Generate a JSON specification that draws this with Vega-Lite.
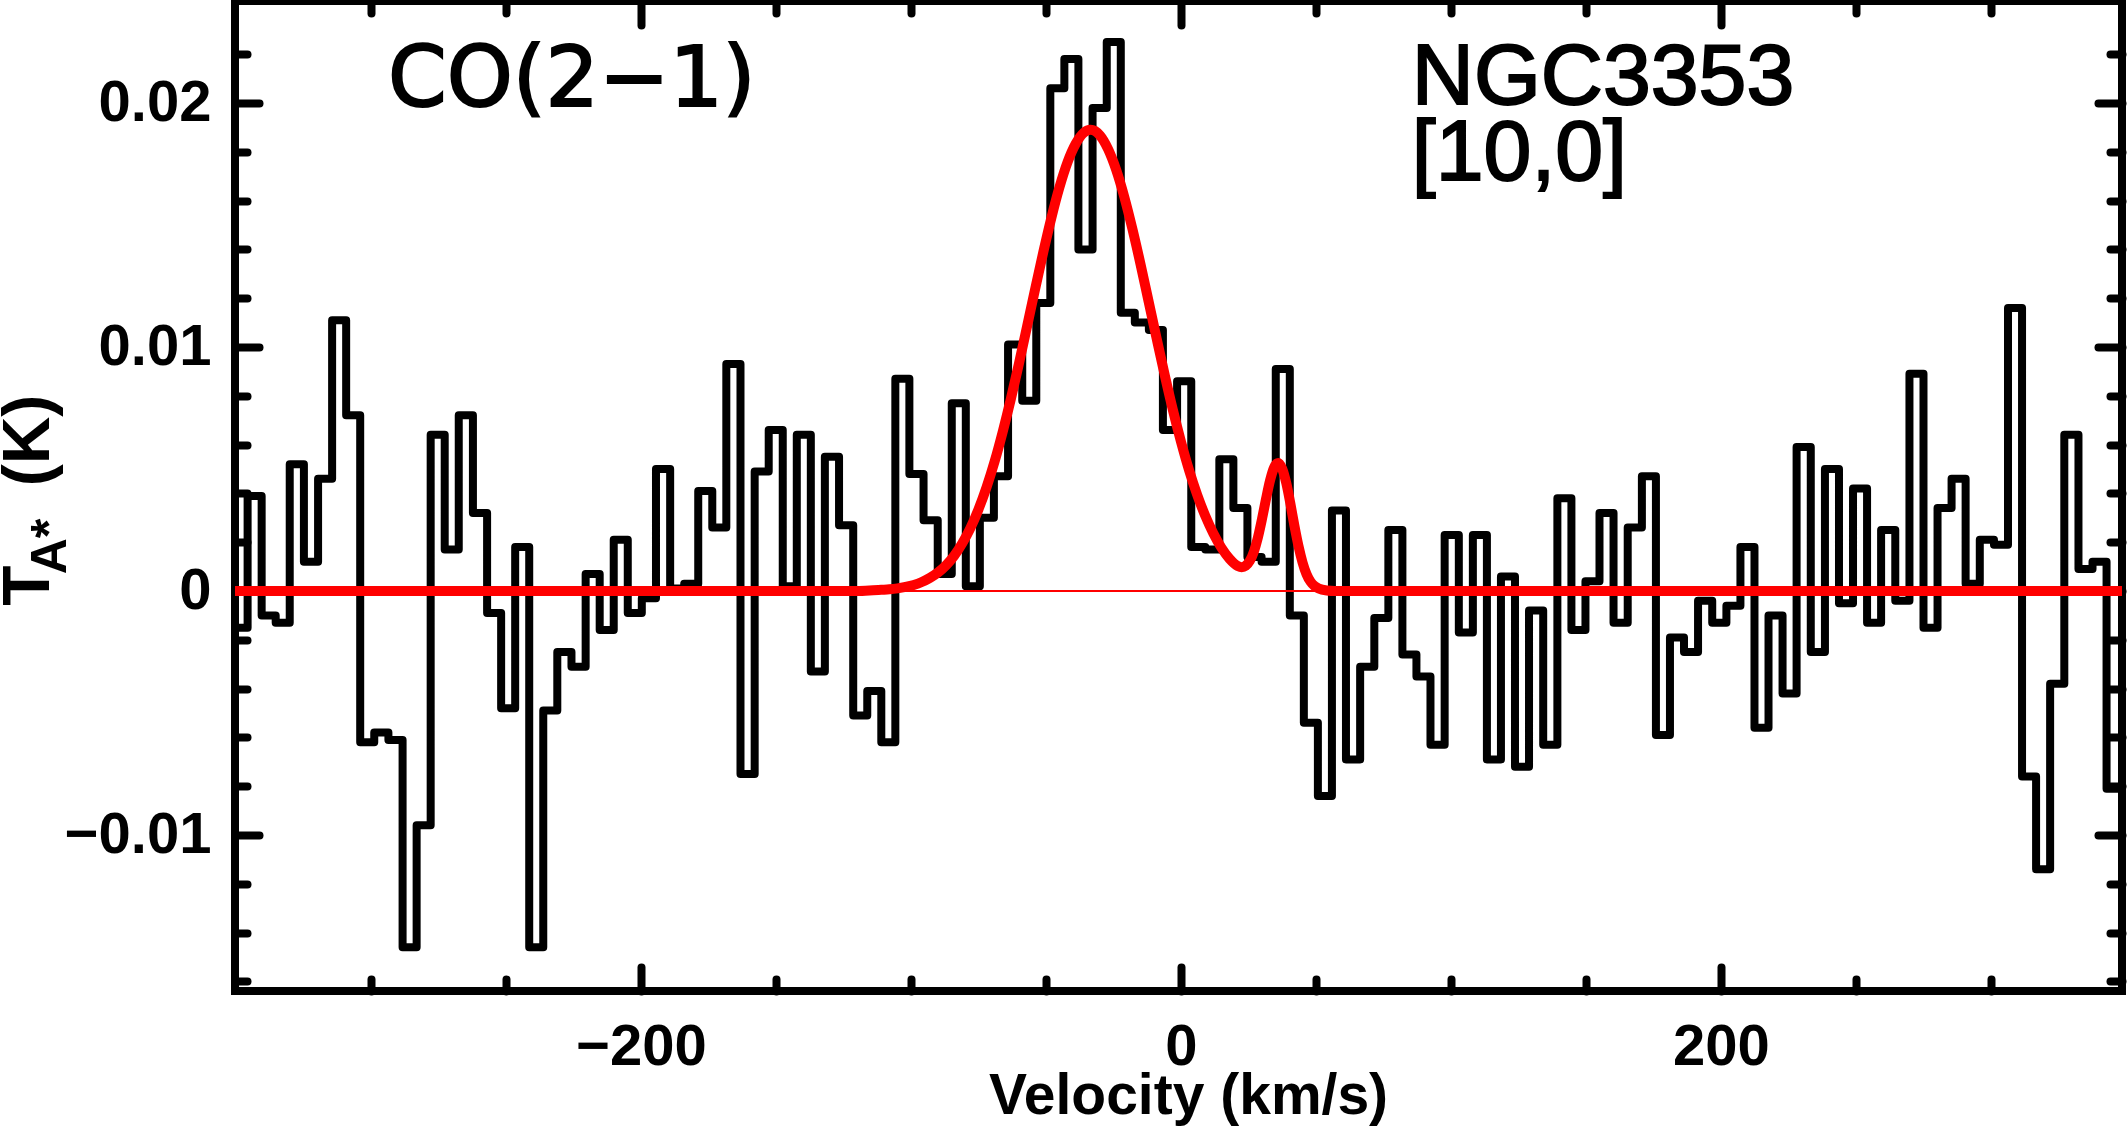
{
  "$schema": "https://vega.github.io/schema/vega-lite/v6.json",
  "width": 1887,
  "height": 990,
  "autosize": {"type": "none"},
  "padding": {"left": 235, "top": 1, "right": 6, "bottom": 137},
  "background": "white",
  "config": {
    "view": {"stroke": "black", "strokeWidth": 8},
    "axis": {"grid": false, "domain": false, "labelColor": "black", "titleColor": "black", "tickColor": "black", "tickWidth": 8, "tickCap": "round", "labelOverlap": false, "labelFlush": false}
  },
  "datasets": {
    "spectrum": [
      {"v": -353.5, "t": 0.0018}, {"v": -348.3, "t": -0.0015}, {"v": -343.1, "t": 0.0039},
      {"v": -337.9, "t": -0.0010}, {"v": -332.7, "t": -0.0013}, {"v": -327.5, "t": 0.0052},
      {"v": -322.2, "t": 0.0012}, {"v": -317.0, "t": 0.0046}, {"v": -311.8, "t": 0.0111},
      {"v": -306.6, "t": 0.0072}, {"v": -301.4, "t": -0.0062}, {"v": -296.2, "t": -0.0058},
      {"v": -290.9, "t": -0.0061}, {"v": -285.7, "t": -0.0146}, {"v": -280.5, "t": -0.0096},
      {"v": -275.3, "t": 0.0064}, {"v": -270.1, "t": 0.0017}, {"v": -264.9, "t": 0.0072},
      {"v": -259.6, "t": 0.0032}, {"v": -254.4, "t": -0.0009}, {"v": -249.2, "t": -0.0048},
      {"v": -244.0, "t": 0.0018}, {"v": -238.8, "t": -0.0146}, {"v": -233.6, "t": -0.0049},
      {"v": -228.4, "t": -0.0025}, {"v": -223.1, "t": -0.0031}, {"v": -217.9, "t": 0.0007},
      {"v": -212.7, "t": -0.0016}, {"v": -207.5, "t": 0.0021}, {"v": -202.3, "t": -0.0009},
      {"v": -197.1, "t": -0.0003}, {"v": -191.8, "t": 0.0050}, {"v": -186.6, "t": 0.0001},
      {"v": -181.4, "t": 0.0003}, {"v": -176.2, "t": 0.0041}, {"v": -171.0, "t": 0.0026},
      {"v": -165.8, "t": 0.0093}, {"v": -160.5, "t": -0.0075}, {"v": -155.3, "t": 0.0049},
      {"v": -150.1, "t": 0.0066}, {"v": -144.9, "t": 0.0002}, {"v": -139.7, "t": 0.0064},
      {"v": -134.5, "t": -0.0033}, {"v": -129.3, "t": 0.0055}, {"v": -124.0, "t": 0.0027},
      {"v": -118.8, "t": -0.0051}, {"v": -113.6, "t": -0.0041}, {"v": -108.4, "t": -0.0062},
      {"v": -103.2, "t": 0.0087}, {"v": -98.0, "t": 0.0048}, {"v": -92.7, "t": 0.0029},
      {"v": -87.5, "t": 0.0007}, {"v": -82.3, "t": 0.0077}, {"v": -77.1, "t": 0.0002},
      {"v": -71.9, "t": 0.0030}, {"v": -66.7, "t": 0.0047}, {"v": -61.4, "t": 0.0101},
      {"v": -56.2, "t": 0.0078}, {"v": -51.0, "t": 0.0118}, {"v": -45.8, "t": 0.0206},
      {"v": -40.6, "t": 0.0218}, {"v": -35.4, "t": 0.0140}, {"v": -30.1, "t": 0.0198},
      {"v": -24.9, "t": 0.0225}, {"v": -19.7, "t": 0.0114}, {"v": -14.5, "t": 0.0110},
      {"v": -9.3, "t": 0.0107}, {"v": -4.1, "t": 0.0066}, {"v": 1.2, "t": 0.0086},
      {"v": 6.4, "t": 0.0018}, {"v": 11.6, "t": 0.0017}, {"v": 16.8, "t": 0.0054},
      {"v": 22.0, "t": 0.0034}, {"v": 27.2, "t": 0.0014}, {"v": 32.5, "t": 0.0012},
      {"v": 37.7, "t": 0.0091}, {"v": 42.9, "t": -0.0010}, {"v": 48.1, "t": -0.0054},
      {"v": 53.3, "t": -0.0084}, {"v": 58.5, "t": 0.0033}, {"v": 63.7, "t": -0.0069},
      {"v": 69.0, "t": -0.0031}, {"v": 74.2, "t": -0.0011}, {"v": 79.4, "t": 0.0025},
      {"v": 84.6, "t": -0.0026}, {"v": 89.8, "t": -0.0035}, {"v": 95.0, "t": -0.0063},
      {"v": 100.3, "t": 0.0023}, {"v": 105.5, "t": -0.0017}, {"v": 110.7, "t": 0.0023},
      {"v": 115.9, "t": -0.0069}, {"v": 121.1, "t": 0.0006}, {"v": 126.3, "t": -0.0072},
      {"v": 131.5, "t": -0.0008}, {"v": 136.8, "t": -0.0063}, {"v": 142.0, "t": 0.0038},
      {"v": 147.2, "t": -0.0016}, {"v": 152.4, "t": 0.0004}, {"v": 157.6, "t": 0.0032},
      {"v": 162.8, "t": -0.0013}, {"v": 168.1, "t": 0.0026}, {"v": 173.3, "t": 0.0047},
      {"v": 178.5, "t": -0.0059}, {"v": 183.7, "t": -0.0019}, {"v": 188.9, "t": -0.0025},
      {"v": 194.1, "t": -0.0004}, {"v": 199.4, "t": -0.0013}, {"v": 204.6, "t": -0.0006},
      {"v": 209.8, "t": 0.0018}, {"v": 215.0, "t": -0.0056}, {"v": 220.2, "t": -0.0010},
      {"v": 225.4, "t": -0.0042}, {"v": 230.6, "t": 0.0059}, {"v": 235.9, "t": -0.0025},
      {"v": 241.1, "t": 0.0050}, {"v": 246.3, "t": -0.0005}, {"v": 251.5, "t": 0.0042},
      {"v": 256.7, "t": -0.0013}, {"v": 261.9, "t": 0.0025}, {"v": 267.2, "t": -0.0004},
      {"v": 272.4, "t": 0.0089}, {"v": 277.6, "t": -0.0015}, {"v": 282.8, "t": 0.0034},
      {"v": 288.0, "t": 0.0046}, {"v": 293.2, "t": 0.0003}, {"v": 298.5, "t": 0.0021},
      {"v": 303.7, "t": 0.0019}, {"v": 308.9, "t": 0.0116}, {"v": 314.1, "t": -0.0076},
      {"v": 319.3, "t": -0.0114}, {"v": 324.5, "t": -0.0038}, {"v": 329.8, "t": 0.0064},
      {"v": 335.0, "t": 0.0009}, {"v": 340.2, "t": 0.0012}, {"v": 345.4, "t": -0.0081},
      {"v": 350.6, "t": -0.0081}
    ],
    "fit": [
      {"v": -351, "t": 0}, {"v": -120, "t": 0}, {"v": -114, "t": 0.00003}, {"v": -111, "t": 0.00005},
      {"v": -108, "t": 0.00007}, {"v": -105, "t": 0.00011}, {"v": -102, "t": 0.00017}, {"v": -99, "t": 0.00025},
      {"v": -96, "t": 0.00037}, {"v": -93, "t": 0.00054}, {"v": -90, "t": 0.00076}, {"v": -87, "t": 0.00106},
      {"v": -84, "t": 0.00145}, {"v": -81, "t": 0.00196}, {"v": -78, "t": 0.00258}, {"v": -75, "t": 0.00335},
      {"v": -72, "t": 0.00426}, {"v": -69, "t": 0.00532}, {"v": -66, "t": 0.00654}, {"v": -63, "t": 0.00788},
      {"v": -60, "t": 0.00933}, {"v": -57, "t": 0.01085}, {"v": -54, "t": 0.01239}, {"v": -51, "t": 0.01389},
      {"v": -48, "t": 0.0153}, {"v": -45, "t": 0.01655}, {"v": -42, "t": 0.01758}, {"v": -39, "t": 0.01833},
      {"v": -36, "t": 0.01878}, {"v": -33.5, "t": 0.0189}, {"v": -30, "t": 0.01867}, {"v": -27, "t": 0.01811},
      {"v": -24, "t": 0.01726}, {"v": -21, "t": 0.01615}, {"v": -18, "t": 0.01484}, {"v": -15, "t": 0.0134},
      {"v": -12, "t": 0.01187}, {"v": -9, "t": 0.01034}, {"v": -6, "t": 0.00884}, {"v": -3, "t": 0.00742},
      {"v": 0, "t": 0.00612}, {"v": 3, "t": 0.00495}, {"v": 6, "t": 0.00394}, {"v": 9, "t": 0.00308},
      {"v": 12, "t": 0.00236}, {"v": 15, "t": 0.00177}, {"v": 18, "t": 0.00132}, {"v": 21, "t": 0.00103},
      {"v": 22.5, "t": 0.00098}, {"v": 24, "t": 0.00104}, {"v": 25.5, "t": 0.00124}, {"v": 27, "t": 0.00162},
      {"v": 28.5, "t": 0.0022}, {"v": 30, "t": 0.00295}, {"v": 31.5, "t": 0.00378}, {"v": 33, "t": 0.00454},
      {"v": 34.5, "t": 0.00507}, {"v": 36, "t": 0.00525}, {"v": 37.5, "t": 0.00501}, {"v": 39, "t": 0.00442},
      {"v": 40.5, "t": 0.00359}, {"v": 42, "t": 0.00268}, {"v": 43.5, "t": 0.00185}, {"v": 45, "t": 0.00118},
      {"v": 46.5, "t": 0.00069}, {"v": 48, "t": 0.00038}, {"v": 49.5, "t": 0.0002}, {"v": 51, "t": 0.0001},
      {"v": 54, "t": 0.00002}, {"v": 57, "t": 0}, {"v": 350, "t": 0}
    ]
  },
  "resolve": {"axis": {"x": "independent", "y": "independent"}},
  "layer": [
    {
      "data": {"name": "spectrum"},
      "mark": {"type": "line", "interpolate": "step", "color": "black", "strokeWidth": 8, "strokeJoin": "round", "strokeCap": "round", "clip": true},
      "encoding": {
        "x": {"field": "v", "type": "quantitative", "scale": {"domain": [-350.37, 348.52], "nice": false, "zero": false},
          "axis": {"orient": "bottom", "values": [-200, 0, 200], "format": "d", "ticks": false, "labelFont": "Liberation Sans", "labelFontWeight": "bold", "labelFontSize": 58, "labelPadding": 27,
            "title": "Velocity (km/s)", "titleFont": "Liberation Sans", "titleFontWeight": "bold", "titleFontSize": 57, "titleX": 953, "titleY": 122, "titleAlign": "center", "titleBaseline": "alphabetic"}},
        "y": {"field": "t", "type": "quantitative", "scale": {"domain": [-0.01639, 0.02418], "nice": false, "zero": false},
          "axis": {"orient": "left", "values": [-0.01, 0, 0.01, 0.02], "format": ".2~f", "ticks": false, "labelFont": "Liberation Sans", "labelFontWeight": "bold", "labelFontSize": 58, "labelPadding": 24,
            "title": "T", "titleFont": "Liberation Sans", "titleFontWeight": "bold", "titleFontSize": 66, "titleAngle": 270, "titleX": -187, "titleY": 584, "titleAlign": "center", "titleBaseline": "alphabetic"}}
      }
    },
    {
      "data": {"values": [{}]},
      "mark": {"type": "rule", "color": "#ff0000", "strokeWidth": 2},
      "encoding": {
        "y": {"datum": 0, "type": "quantitative", "scale": {"domain": [-0.01639, 0.02418], "nice": false, "zero": false}, "axis": null}
      }
    },
    {
      "data": {"name": "fit"},
      "mark": {"type": "line", "interpolate": "monotone", "color": "#ff0000", "strokeWidth": 10, "strokeCap": "round", "clip": true},
      "encoding": {
        "x": {"field": "v", "type": "quantitative", "scale": {"domain": [-350.37, 348.52], "nice": false, "zero": false},
          "axis": {"orient": "bottom", "values": [-300, -250, -150, -100, -50, 50, 100, 150, 250, 300], "labels": false, "tickSize": -12, "title": null}},
        "y": {"field": "t", "type": "quantitative", "scale": {"domain": [-0.01639, 0.02418], "nice": false, "zero": false},
          "axis": {"orient": "left", "values": [-0.016, -0.014, -0.012, -0.008, -0.006, -0.004, -0.002, 0.002, 0.004, 0.006, 0.008, 0.012, 0.014, 0.016, 0.018, 0.022], "labels": false, "tickSize": -12,
            "title": "(K)", "titleFont": "Liberation Sans", "titleFontWeight": "bold", "titleFontSize": 66, "titleAngle": 270, "titleX": -187, "titleY": 439, "titleAlign": "center", "titleBaseline": "alphabetic"}}
      }
    },
    {
      "data": {"name": "fit"},
      "mark": {"type": "point", "opacity": 0},
      "encoding": {
        "x": {"field": "v", "type": "quantitative", "scale": {"domain": [-350.37, 348.52], "nice": false, "zero": false},
          "axis": {"orient": "bottom", "values": [-200, 0, 200], "labels": false, "tickSize": -24, "title": null}},
        "y": {"field": "t", "type": "quantitative", "scale": {"domain": [-0.01639, 0.02418], "nice": false, "zero": false},
          "axis": {"orient": "left", "values": [-0.01, 0, 0.01, 0.02], "labels": false, "tickSize": -24,
            "title": "A*", "titleFont": "Liberation Sans", "titleFontWeight": "bold", "titleFontSize": 50, "titleAngle": 270, "titleX": -170, "titleY": 545, "titleAlign": "center", "titleBaseline": "alphabetic"}}
      }
    },
    {
      "data": {"name": "fit"},
      "mark": {"type": "point", "opacity": 0},
      "encoding": {
        "x": {"field": "v", "type": "quantitative", "scale": {"domain": [-350.37, 348.52], "nice": false, "zero": false},
          "axis": {"orient": "top", "values": [-200, 0, 200], "labels": false, "tickSize": -24, "title": null}},
        "y": {"field": "t", "type": "quantitative", "scale": {"domain": [-0.01639, 0.02418], "nice": false, "zero": false},
          "axis": {"orient": "right", "values": [-0.01, 0, 0.01, 0.02], "labels": false, "tickSize": -24, "title": null}}
      }
    },
    {
      "data": {"name": "fit"},
      "mark": {"type": "point", "opacity": 0},
      "encoding": {
        "x": {"field": "v", "type": "quantitative", "scale": {"domain": [-350.37, 348.52], "nice": false, "zero": false},
          "axis": {"orient": "top", "values": [-300, -250, -150, -100, -50, 50, 100, 150, 250, 300], "labels": false, "tickSize": -12, "title": null}},
        "y": {"field": "t", "type": "quantitative", "scale": {"domain": [-0.01639, 0.02418], "nice": false, "zero": false},
          "axis": {"orient": "right", "values": [-0.016, -0.014, -0.012, -0.008, -0.006, -0.004, -0.002, 0.002, 0.004, 0.006, 0.008, 0.012, 0.014, 0.016, 0.018, 0.022], "labels": false, "tickSize": -12, "title": null}}
      }
    },
    {
      "data": {"values": [{}]},
      "mark": {"type": "text", "text": "CO(2−1)", "font": "DejaVu Sans", "fontSize": 84, "align": "left", "baseline": "alphabetic", "fill": "black", "stroke": "black", "strokeWidth": 2},
      "encoding": {
        "x": {"datum": -293.7, "type": "quantitative", "scale": {"domain": [-350.37, 348.52], "nice": false, "zero": false}, "axis": null},
        "y": {"datum": 0.01986, "type": "quantitative", "scale": {"domain": [-0.01639, 0.02418], "nice": false, "zero": false}, "axis": null}
      }
    },
    {
      "data": {"values": [{}]},
      "mark": {"type": "text", "text": "NGC3353", "font": "Liberation Sans", "fontSize": 86, "align": "left", "baseline": "alphabetic", "fill": "black", "stroke": "black", "strokeWidth": 2},
      "encoding": {
        "x": {"datum": 85.5, "type": "quantitative", "scale": {"domain": [-350.37, 348.52], "nice": false, "zero": false}, "axis": null},
        "y": {"datum": 0.01996, "type": "quantitative", "scale": {"domain": [-0.01639, 0.02418], "nice": false, "zero": false}, "axis": null}
      }
    },
    {
      "data": {"values": [{}]},
      "mark": {"type": "text", "text": "[10,0]", "font": "Liberation Sans", "fontSize": 86, "align": "left", "baseline": "alphabetic", "fill": "black", "stroke": "black", "strokeWidth": 2},
      "encoding": {
        "x": {"datum": 85.5, "type": "quantitative", "scale": {"domain": [-350.37, 348.52], "nice": false, "zero": false}, "axis": null},
        "y": {"datum": 0.01684, "type": "quantitative", "scale": {"domain": [-0.01639, 0.02418], "nice": false, "zero": false}, "axis": null}
      }
    }
  ]
}
